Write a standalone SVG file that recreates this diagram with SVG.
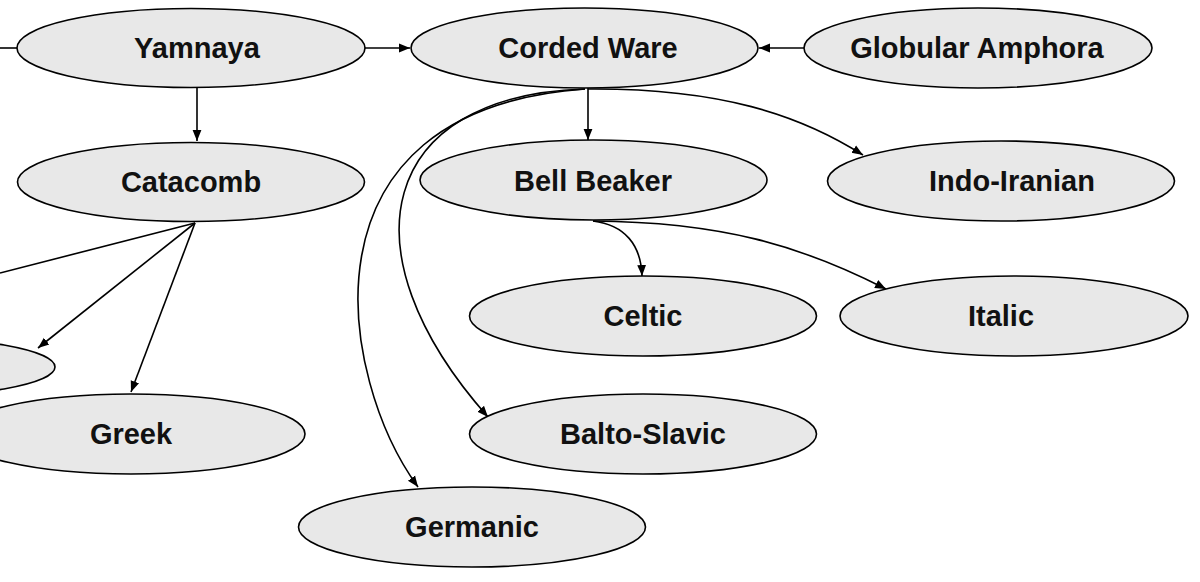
<svg xmlns="http://www.w3.org/2000/svg" width="1200" height="582" viewBox="0 0 1200 582">
<style>
.n ellipse{fill:#e8e8e8;stroke:#000;stroke-width:1.6}
.n text{font-family:"Liberation Sans",Arial,sans-serif;font-weight:bold;font-size:29px;fill:#111;text-anchor:middle}
.e path{fill:none;stroke:#000;stroke-width:1.6}
</style>
<defs>
<marker id="a" viewBox="0 0 10 10" refX="10" refY="5" markerWidth="8" markerHeight="8" markerUnits="userSpaceOnUse" orient="auto"><path d="M0,0 L10,5 L0,10 z" fill="#000" stroke="none"/></marker>
<marker id="b" viewBox="0 0 10 10" refX="10" refY="5" markerWidth="11" markerHeight="11" markerUnits="userSpaceOnUse" orient="auto"><path d="M0,1 L10,5 L0,9 z" fill="#000" stroke="none"/></marker>
</defs>
<rect width="1200" height="582" fill="#fff"/>
<g class="e" id="edges">
<path d="M0,48 L17,48"/>
<path d="M365,48 L410,48" marker-end="url(#b)"/>
<path d="M804,48 L759,48" marker-end="url(#b)"/>
<path d="M197,88 L197,141" marker-end="url(#b)"/>
<path d="M195,223 L0,273"/>
<path d="M195,223 L38,348" marker-end="url(#b)"/>
<path d="M195,223 L131,392" marker-end="url(#b)"/>
<path d="M588,88 L588,140" marker-end="url(#b)"/>
<path d="M588,89 C720,88 800,115 863,155" marker-end="url(#b)"/>
<path d="M585,89 C380,95 340,250 488,417" marker-end="url(#b)"/>
<path d="M585,89 C290,110 340,380 418,487" marker-end="url(#b)"/>
<path d="M593,221 C625,225 641,245 642,276" marker-end="url(#b)"/>
<path d="M593,221 C720,222 800,245 886,289" marker-end="url(#b)"/>
</g>
<g class="n" id="yamnaya"><ellipse cx="191" cy="48" rx="174" ry="39.5"/><text x="197" y="58">Yamnaya</text></g>
<g class="n" id="corded"><ellipse cx="584.5" cy="48" rx="173.5" ry="40"/><text x="588" y="58">Corded Ware</text></g>
<g class="n" id="globular"><ellipse cx="978" cy="48" rx="174" ry="40"/><text x="977" y="58">Globular Amphora</text></g>
<g class="n" id="catacomb"><ellipse cx="191" cy="182" rx="173.5" ry="39.5"/><text x="191" y="192">Catacomb</text></g>
<g class="n" id="bellbeaker"><ellipse cx="593.5" cy="180" rx="173.5" ry="40"/><text x="593" y="191">Bell Beaker</text></g>
<g class="n" id="indoiranian"><ellipse cx="1001" cy="181" rx="173.5" ry="40"/><text x="1012" y="191">Indo-Iranian</text></g>
<g class="n" id="celtic"><ellipse cx="643" cy="316" rx="173.5" ry="40"/><text x="643" y="326">Celtic</text></g>
<g class="n" id="italic"><ellipse cx="1014" cy="316" rx="174" ry="40"/><text x="1001" y="326">Italic</text></g>
<g class="n" id="partial"><ellipse cx="-119" cy="367" rx="174" ry="31"/></g>
<g class="n" id="greek"><ellipse cx="131" cy="434" rx="174" ry="40"/><text x="131" y="444">Greek</text></g>
<g class="n" id="baltoslavic"><ellipse cx="643" cy="434" rx="173.5" ry="40"/><text x="643" y="444">Balto-Slavic</text></g>
<g class="n" id="germanic"><ellipse cx="472" cy="527" rx="173.5" ry="40"/><text x="472" y="537">Germanic</text></g>
</svg>
